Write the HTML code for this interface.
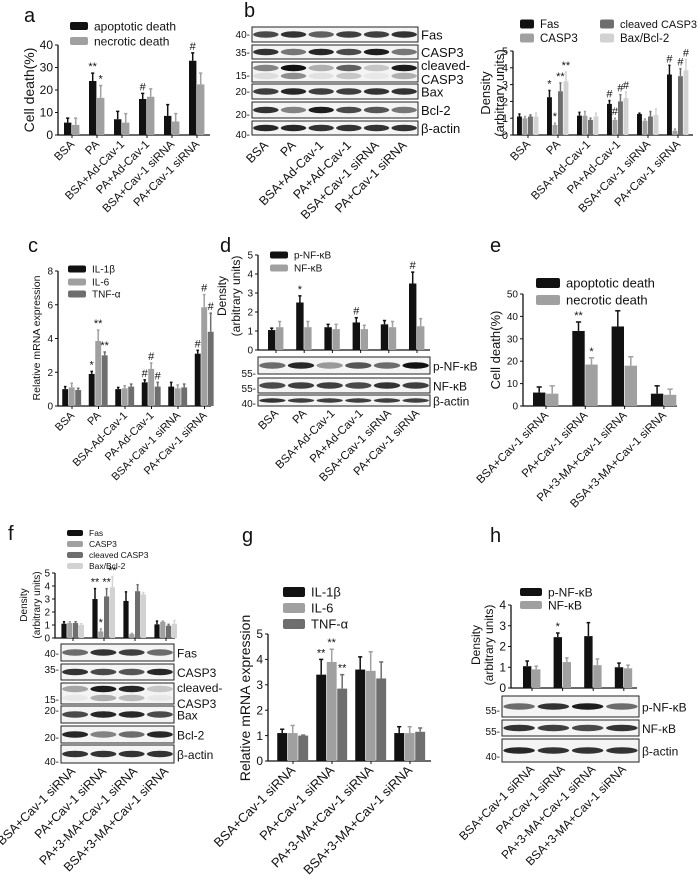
<!DOCTYPE html>
<html><head><meta charset="utf-8"><style>
html,body{margin:0;padding:0;background:#fff;}
svg{display:block;font-family:"Liberation Sans",Arial,sans-serif;}
</style></head><body>
<svg id="fig" width="700" height="884" viewBox="0 0 700 884" xmlns="http://www.w3.org/2000/svg"></svg>
<script>
// ---- data ----
const grp6a = ["BSA","PA","BSA+Ad-Cav-1","PA+Ad-Cav-1","BSA+Cav-1 siRNA","PA+Cav-1 siRNA"];
const grp6c = ["BSA","PA","BSA-Ad-Cav-1","PA-Ad-Cav-1","BSA+Cav-1 siRNA","PA+Cav-1 siRNA"];
const grp4 = ["BSA+Cav-1 siRNA","PA+Cav-1 siRNA","PA+3-MA+Cav-1 siRNA","BSA+3-MA+Cav-1 siRNA"];

const aApop = [5.5,24,7,16,8.5,33];     const aApopE=[2,3.5,3.5,2.5,5,3.5];
const aNec  = [4.5,16.5,5.5,17,6,22.5]; const aNecE=[3,5.5,4,3.5,3.5,5];
const aTicks = [0,10,20,30,40];

const bFas = [1.1,2.25,1.15,1.85,1.25,3.6];  const bFasE=[0.15,0.4,0.2,0.2,0.05,0.55];
const bCasp = [1.0,0.6,1.15,0.9,0.85,0.25]; const bCaspE=[0.1,0.1,0.25,0.1,0.1,0.1];
const bCl = [1.1,2.6,0.9,2.0,1.1,3.5];      const bClE=[0.1,0.5,0.1,0.4,0.3,0.45];
const bBax = [1.1,3.2,1.1,2.2,1.2,3.85];    const bBaxE=[0.2,0.55,0.2,0.35,0.35,0.65];
const bTicks = [0,1,2,3,4,5];

const cIL1 = [1.0,1.9,1.0,1.4,1.15,3.1]; const cIL1E=[0.15,0.15,0.1,0.15,0.25,0.2];
const cIL6 = [1.1,3.85,1.05,2.2,1.05,5.85]; const cIL6E=[0.25,0.65,0.15,0.35,0.2,0.75];
const cTNF = [0.95,3.0,1.15,1.15,1.1,4.4]; const cTNFE=[0.1,0.2,0.15,0.25,0.2,1.1];
const cTicks = [0,2,4,6,8];

const dP = [1.05,2.5,1.2,1.45,1.35,3.5]; const dPE=[0.1,0.35,0.15,0.25,0.2,0.6];
const dN = [1.2,1.2,1.1,1.1,1.2,1.25];   const dNE=[0.3,0.3,0.25,0.2,0.3,0.4];
const dTicks = [0,1,2,3,4,5];

const eApop = [6,33.5,35.5,5.5]; const eApopE=[2.5,4,7,3.5];
const eNec = [5.5,18.5,18,5];    const eNecE=[3.5,3,4,2.5];
const eTicks = [0,10,20,30,40,50];

const fFas = [1.1,3.0,2.85,1.05]; const fFasE=[0.15,0.8,0.7,0.25];
const fCasp = [1.15,0.5,0.3,1.25]; const fCaspE=[0.1,0.2,0.05,0.05];
const fCl = [1.15,3.2,3.6,0.95]; const fClE=[0.1,0.6,0.5,0.1];
const fBax = [1.0,3.9,3.35,1.1]; const fBaxE=[0.1,0.8,0.15,0.25];
const fTicks = [0,1,2,3,4,5];

const gIL1 = [1.1,3.4,3.6,1.1]; const gIL1E=[0.15,0.6,0.5,0.25];
const gIL6 = [1.1,3.9,3.55,1.1]; const gIL6E=[0.3,0.5,0.75,0.25];
const gTNF = [1.0,2.85,3.25,1.15]; const gTNFE=[0.02,0.55,0.65,0.15];
const gTicks = [0,1,2,3,4,5];

const hP = [1.05,2.45,2.5,1.0]; const hPE=[0.25,0.2,0.65,0.2];
const hN = [0.9,1.25,1.1,0.95]; const hNE=[0.15,0.2,0.3,0.15];
const hTicks = [0,1,2,3,4];

// ---- helpers ----
const svg = document.getElementById('fig');
const NS = "http://www.w3.org/2000/svg";
function el(tag, attrs, parent){
  const e = document.createElementNS(NS, tag);
  for (const k in attrs) e.setAttribute(k, attrs[k]);
  (parent||svg).appendChild(e);
  return e;
}
function txt(s, x, y, size, opts, parent){
  opts = opts||{};
  const t = el('text', {x:x, y:y, 'font-size':size, fill:'#111', 'text-anchor':opts.anchor||'start'}, parent);
  if (opts.rot) t.setAttribute('transform','rotate('+opts.rot+' '+x+' '+y+')');
  t.textContent = s;
  return t;
}

function chart(id, c){
  const g = el('g', {});
  
  
  const ys = v => c.y0 - (v / c.ymax) * (c.y0 - c.ytop);
  const xs = i => c.c0 + i * c.sp;
  const ax = el('path', {d:'M'+c.x0+' '+ys(c.ymax)+' V'+c.y0+' H'+c.xr, stroke:'#111', 'stroke-width':1.3, fill:'none'}, g);
  
  
  c.ticks.forEach(v => {
    el('line', {x1:c.x0-3, x2:c.x0, y1:ys(v), y2:ys(v), stroke:'#111'}, g);
    const t = txt(String(v), c.x0-5, ys(v)+c.tf*0.35, c.tf, {anchor:'end'}, g);
    
    
  });
  const ns = c.series.length;
  for (let i = 0; i < c.n; i++) {
    el('line', {x1:xs(i), x2:xs(i), y1:c.y0, y2:c.y0+3, stroke:'#111'}, g);
    c.series.forEach((s, j) => {
      const v = s.vals[i];
      const bx = xs(i) + (j - ns/2) * c.bw;
      const r = el('rect', {x:bx, y:ys(v), width:c.bw-0.6, height:c.y0-ys(v), fill:s.color}, g);
      
      
      const e = s.errs[i];
      const cx = bx + (c.bw-0.6)/2;
      el('line', {x1:cx, x2:cx, y1:ys(v), y2:ys(v+e), stroke:s.color, 'stroke-width':1.5}, g);
      el('line', {x1:cx-c.bw*0.2, x2:cx+c.bw*0.2, y1:ys(v+e), y2:ys(v+e), stroke:s.color, 'stroke-width':1.5}, g);
      if (s.marks && s.marks[i]) {
        const m = txt(s.marks[i], cx, ys(v+e)-3, c.mf||11, {anchor:'middle'}, g);
        
        
      }
    });
    if (c.labels) {
      const ly = c.ly || c.y0 + 10;
      const lx = xs(i) + 3;
      const t = txt(c.labels[i], lx, ly, c.lf, {anchor:'end', rot:-45}, g);
      
      
    }
  }
  c.ytitle.forEach((s, k) => {
    const t = txt(s, c.ytx[k], c.yty, c.ytf, {anchor:'middle', rot:-90}, g);
    
    
  });
  c.legend.forEach(L => {
    const r = el('rect', {x:L.x, y:L.y-L.h/2, width:L.w, height:L.h, rx:2, fill:L.color}, g);
    
    
    const t = txt(L.text, L.x+L.w+6, L.y+L.f*0.36, L.f, {}, g);
    
    
  });
}

function blot(id, x1, x2, rows, lanes){
  const g = el('g', {});
  
  
  const lw = (x2 - x1) / lanes;
  rows.forEach(r => {
    if (!r.nobox) {
      const box = el('rect', {x:x1, y:r.y1, width:x2-x1, height:r.y2-r.y1, fill:'#f4f4f4', stroke:'#222', 'stroke-width':1}, g);
      
      
    }
    const by = r.by || (r.y1 + r.y2)/2;
    r.band.forEach((a, i) => {
      el('ellipse', {cx:x1+lw*(i+0.5), cy:by, rx:lw*0.46, ry:r.bh||3.2, fill:'#111', opacity:a}, g);
    });
    const t = txt(r.label, x2+3, r.ly || (r.y1+r.y2)/2+5, r.lf||13, {}, g);
    
    
    if (r.mw) { const m = txt(r.mw, x1-2, r.mwy, r.mwf||10, {anchor:'end'}, g);
      
       }
  });
}
function letter(s, x, y){
  const t = txt(s, x, y, 20, {});
  
  
}

const K='#111', G1='#a0a0a0', G2='#6e6e6e', G3='#d2d2d2';

// ---- panel a ----
letter('a', 24, 22);
chart('panel-a', {x0:58, xr:210, y0:135, ytop:45, ymax:40, ticks:aTicks, tf:12, c0:72, sp:25, n:6, bw:8,
  series:[{vals:aApop, errs:aApopE, color:K, marks:['','**','','#','','#']},
          {vals:aNec, errs:aNecE, color:G1, marks:['','*','','','','']}],
  labels:grp6a, lf:11.5, ytitle:['Cell death(%)'], ytx:[34], yty:90, ytf:14,
  legend:[{x:70,y:26,w:18,h:8,color:K,text:'apoptotic death',f:12},{x:70,y:41,w:18,h:8,color:G1,text:'necrotic death',f:12}]});

// ---- panel b ----
letter('b', 244, 17);
blot('panel-b', 252, 418, [
  {y1:27,y2:42,label:'Fas',band:[.75,.85,.65,.8,.8,.85],mw:'40-',mwy:38},
  {y1:45,y2:59,label:'CASP3',band:[.85,.55,.9,.75,.95,.55],mw:'35-',mwy:56},
  {y1:62,y2:82,by:68,label:'cleaved-',ly:70,band:[.5,1,.3,.65,.2,.95],mw:'15-',mwy:79},
  {y1:62,y2:82,by:76,nobox:true,label:'CASP3',ly:84,band:[.1,.45,.08,.2,.05,.3]},
  {y1:84,y2:99,label:'Bax',band:[.8,.9,.8,.8,.85,.85],mw:'20-',mwy:95},
  {y1:102,y2:118,label:'Bcl-2',band:[.85,.5,.95,.75,.7,.55],mw:'20-',mwy:118},
  {y1:121,y2:135,label:'β-actin',band:[.9,.9,.85,.85,.85,.85],mw:'40-',mwy:138}
], 6);
(function(){ grp6a.forEach((s,i)=>{ const x=252+27.7*(i+0.5)+3; const t=txt(s,x,146,12.5,{anchor:'end',rot:-45});
    }); })();
chart('panel-b-density', {x0:513, xr:693, y0:135, ytop:51, ymax:5, ticks:bTicks, tf:11, c0:528, sp:30, n:6, bw:5.5,
  series:[{vals:bFas, errs:bFasE, color:K, marks:['','*','','#','','#']},
          {vals:bCasp, errs:bCaspE, color:G1, marks:['','*','','#','','']},
          {vals:bCl, errs:bClE, color:G2, marks:['','**','','#','','#']},
          {vals:bBax, errs:bBaxE, color:G3, marks:['','**','','#','','#']}],
  labels:grp6a, lf:11.5, ytitle:['Density','(arbitrary units)'], ytx:[490,504], yty:93, ytf:13,
  legend:[{x:520,y:24,w:14,h:9,color:K,text:'Fas',f:11.5},{x:520,y:38,w:14,h:9,color:G1,text:'CASP3',f:11.5},
          {x:600,y:24,w:14,h:9,color:G2,text:'cleaved CASP3',f:11},{x:600,y:38,w:14,h:9,color:G3,text:'Bax/Bcl-2',f:11.5}]});

// ---- panel c ----
letter('c', 28, 252);
chart('panel-c', {x0:58, xr:211, y0:406, ytop:271, ymax:8, ticks:cTicks, tf:10, c0:72, sp:26.5, n:6, bw:6.5,
  series:[{vals:cIL1, errs:cIL1E, color:K, marks:['','*','','#','','#']},
          {vals:cIL6, errs:cIL6E, color:G1, marks:['','**','','#','','#']},
          {vals:cTNF, errs:cTNFE, color:G2, marks:['','**','','#','','#']}],
  labels:grp6c, lf:11, ytitle:['Relative mRNA expression'], ytx:[40], yty:338, ytf:10.5,
  legend:[{x:68,y:269,w:18,h:7,color:K,text:'IL-1β',f:10},{x:68,y:282,w:18,h:7,color:G1,text:'IL-6',f:10},{x:68,y:294,w:18,h:7,color:G2,text:'TNF-α',f:10}]});

// ---- panel d ----
letter('d', 220, 252);
chart('panel-d', {x0:258, xr:430, y0:350, ytop:255, ymax:5, ticks:dTicks, tf:10, c0:276, sp:28.2, n:6, bw:8,
  series:[{vals:dP, errs:dPE, color:K, marks:['','*','','#','','#']},
          {vals:dN, errs:dNE, color:G1, marks:['','','','','','']}],
  labels:grp6a, lf:11.5, ly:414, ytitle:['Density','(arbitrary units)'], ytx:[226,240], yty:296, ytf:12,
  legend:[{x:270,y:255,w:18,h:7,color:K,text:'p-NF-κB',f:10},{x:270,y:268,w:18,h:7,color:G1,text:'NF-κB',f:10}]});
blot('panel-d', 258, 430, [
  {y1:357,y2:374,label:'p-NF-κB',band:[.6,.9,.4,.7,.6,1],mw:'55-',mwy:377,lf:12},
  {y1:378,y2:393,label:'NF-κB',band:[.75,.8,.8,.75,.85,.8],mw:'55-',mwy:392,lf:12},
  {y1:395,y2:406,label:'β-actin',band:[.85,.8,.8,.8,.8,.8],mw:'40-',mwy:407,lf:12,bh:2.2}
], 6);

// ---- panel e ----
letter('e', 490, 252);
chart('panel-e', {x0:523, xr:677, y0:406, ytop:294, ymax:50, ticks:eTicks, tf:10, c0:546, sp:39.3, n:4, bw:13,
  series:[{vals:eApop, errs:eApopE, color:K, marks:['','**','','']},
          {vals:eNec, errs:eNecE, color:G1, marks:['','*','','']}],
  labels:grp4, lf:11.5, ytitle:['Cell death(%)'], ytx:[500], yty:350, ytf:13,
  legend:[{x:536,y:283,w:24,h:10,color:K,text:'apoptotic death',f:13},{x:536,y:300,w:24,h:10,color:G1,text:'necrotic death',f:13}]});

// ---- panel f ----
letter('f', 8, 540);
chart('panel-f', {x0:55, xr:175, y0:638, ytop:573, ymax:5, ticks:fTicks, tf:10, c0:73, sp:31, n:4, bw:5.8,
  series:[{vals:fFas, errs:fFasE, color:K, marks:['','**','','']},
          {vals:fCasp, errs:fCaspE, color:G1, marks:['','*','','']},
          {vals:fCl, errs:fClE, color:G2, marks:['','**','','']},
          {vals:fBax, errs:fBaxE, color:G3, marks:['','**','','']}],
  labels:grp4, lf:12.5, ly:772, ytitle:['Density','(arbitrary units)'], ytx:[27,40], yty:605, ytf:10,
  legend:[{x:67,y:533,w:16,h:6,color:K,text:'Fas',f:8.5},{x:67,y:544,w:16,h:6,color:G1,text:'CASP3',f:8.5},
          {x:67,y:555,w:16,h:6,color:G2,text:'cleaved CASP3',f:8.5},{x:67,y:566,w:16,h:6,color:G3,text:'Bax/Bcl-2',f:8.5}]});
blot('panel-f', 61, 174, [
  {y1:644,y2:661,label:'Fas',band:[.6,.85,.8,.6],mw:'40-',mwy:657,lf:12},
  {y1:664,y2:680,label:'CASP3',band:[.85,.75,.7,.9],mw:'35-',mwy:673,lf:12},
  {y1:683,y2:704,by:689,label:'cleaved-',ly:692,band:[.35,.95,.9,.2],mw:'15-',mwy:703,lf:12},
  {y1:683,y2:704,by:698,nobox:true,label:'CASP3',ly:708,band:[.05,.3,.25,.05],lf:12},
  {y1:706,y2:723,label:'Bax',band:[.75,.9,.9,.75],mw:'20-',mwy:714,lf:12},
  {y1:726,y2:743,label:'Bcl-2',band:[.9,.5,.6,.9],mw:'20-',mwy:741,lf:12},
  {y1:745,y2:763,label:'β-actin',band:[.85,.85,.85,.85],mw:'40-',mwy:765,lf:12}
], 4);

// ---- panel g ----
letter('g', 242, 542);
chart('panel-g', {x0:268, xr:431, y0:761, ytop:634, ymax:5, ticks:gTicks, tf:12, c0:293, sp:39, n:4, bw:10.5,
  series:[{vals:gIL1, errs:gIL1E, color:K, marks:['','**','','']},
          {vals:gIL6, errs:gIL6E, color:G1, marks:['','**','','']},
          {vals:gTNF, errs:gTNFE, color:G2, marks:['','**','','']}],
  labels:grp4, lf:13, ytitle:['Relative mRNA expression'], ytx:[250], yty:698, ytf:14,
  legend:[{x:283,y:592,w:22,h:10,color:K,text:'IL-1β',f:13},{x:283,y:608,w:22,h:10,color:G1,text:'IL-6',f:13},{x:283,y:624,w:22,h:10,color:G2,text:'TNF-α',f:13}]});

// ---- panel h ----
letter('h', 490, 542);
chart('panel-h', {x0:511, xr:637, y0:688, ytop:605, ymax:4, ticks:hTicks, tf:12, c0:532, sp:30.6, n:4, bw:9,
  series:[{vals:hP, errs:hPE, color:K, marks:['','*','','']},
          {vals:hN, errs:hNE, color:G1, marks:['','','','']}],
  labels:grp4, lf:12, ly:770, ytitle:['Density','(arbitrary units)'], ytx:[480,493], yty:645, ytf:12,
  legend:[{x:520,y:592,w:22,h:8,color:K,text:'p-NF-κB',f:12},{x:520,y:605,w:22,h:8,color:G1,text:'NF-κB',f:12}]});
blot('panel-h', 502, 639, [
  {y1:696,y2:717,label:'p-NF-κB',band:[.6,.85,.95,.6],mw:'55-',mwy:714,lf:12},
  {y1:720,y2:736,label:'NF-κB',band:[.85,.8,.75,.85],mw:'55-',mwy:735,lf:12},
  {y1:739,y2:762,label:'β-actin',band:[.9,.85,.85,.85],mw:'40-',mwy:760,lf:12}
], 4);
</script>
</body></html>
